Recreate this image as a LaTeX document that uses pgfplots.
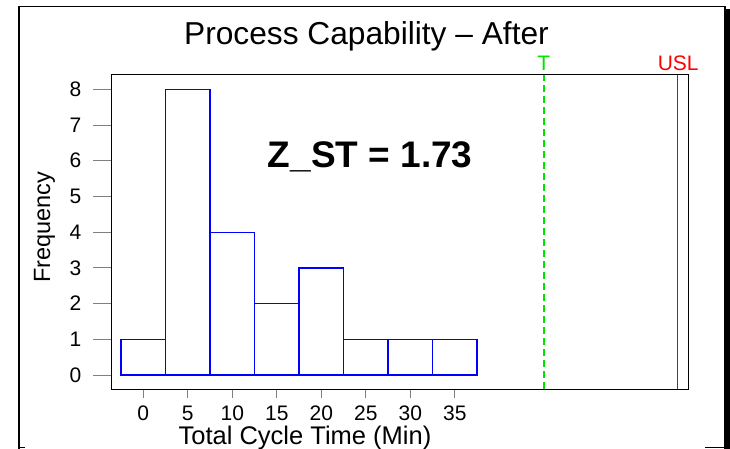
\documentclass[border=0pt]{standalone}
\usepackage{fontspec}
\setmainfont{Liberation Sans}
\usepackage{pgfplots}
\pgfplotsset{compat=1.18}
\begin{document}
\begin{tikzpicture}[x=1pt,y=1pt]
\useasboundingbox (0,0) rectangle (730,-449);
\draw[line width=1.3pt] (19,-449) -- (19,-6.5) -- (725,-6.5) -- (725,-449);
\draw[line width=4pt] (728,-9) -- (728,-449);
\draw[line width=1.3pt] (19,-447.5) -- (25,-447.5);
\draw[line width=1.3pt] (705,-447.5) -- (725,-447.5);
\begin{axis}[at={(111pt,-389pt)}, anchor=south west, scale only axis,
  width=577pt, height=314pt,
  xmin=-3.63, xmax=61.2, ymin=-0.39, ymax=8.4,
  axis line style={line width=1pt},
  tick align=outside, xtick pos=bottom, ytick pos=left,
  xtick={0,5,...,35}, ytick={0,1,...,8},
  tick style={line width=1pt},
  x tick style={/pgfplots/major tick length=9pt},
  y tick style={/pgfplots/major tick length=18pt},
  tick label style={font=\fontsize{21}{23}\selectfont},
  yticklabel style={xshift=-22pt},
  xticklabel style={yshift=-9pt},
  /pgf/number format/assume math mode=true,
  clip=false]
\addplot[ybar interval, color=blue, draw=blue, fill=white, line width=1.2pt] coordinates {(-2.5,1)(2.5,8)(7.5,4)(12.5,2)(17.5,3)(22.5,1)(27.5,1)(32.5,1)(37.5,1)};
\addplot[draw=green!90!black, dash pattern=on 7pt off 4pt, line width=1.5pt] coordinates {(45,-0.39)(45,8.4)};
\addplot[fill=red!90!black, draw=none] coordinates {(59.92,-0.39)(60.08,-0.39)(60.08,8.4)(59.92,8.4)} -- cycle;
\node[green!90!black, anchor=base, font=\fontsize{21}{23}\selectfont] at (axis cs:45,8.4) [yshift=4pt] {T};
\node[red, anchor=base, font=\fontsize{21}{23}\selectfont] at (axis cs:60.1,8.4) [yshift=4pt] {USL};
\node[anchor=base, font=\bfseries\fontsize{37}{40}\selectfont] at (axis cs:25.5,5.82) {Z\_ST = 1.73};
\end{axis}
\node[anchor=base, font=\fontsize{31.7}{34}\selectfont] at (366.5,-45) {Process Capability – After};
\node[anchor=base, font=\fontsize{25.5}{27}\selectfont] at (305,-444) {Total Cycle Time (Min)};
\node[anchor=base, rotate=90, font=\fontsize{23.5}{26}\selectfont] at (50,-227) {Frequency};
\end{tikzpicture}
\end{document}
